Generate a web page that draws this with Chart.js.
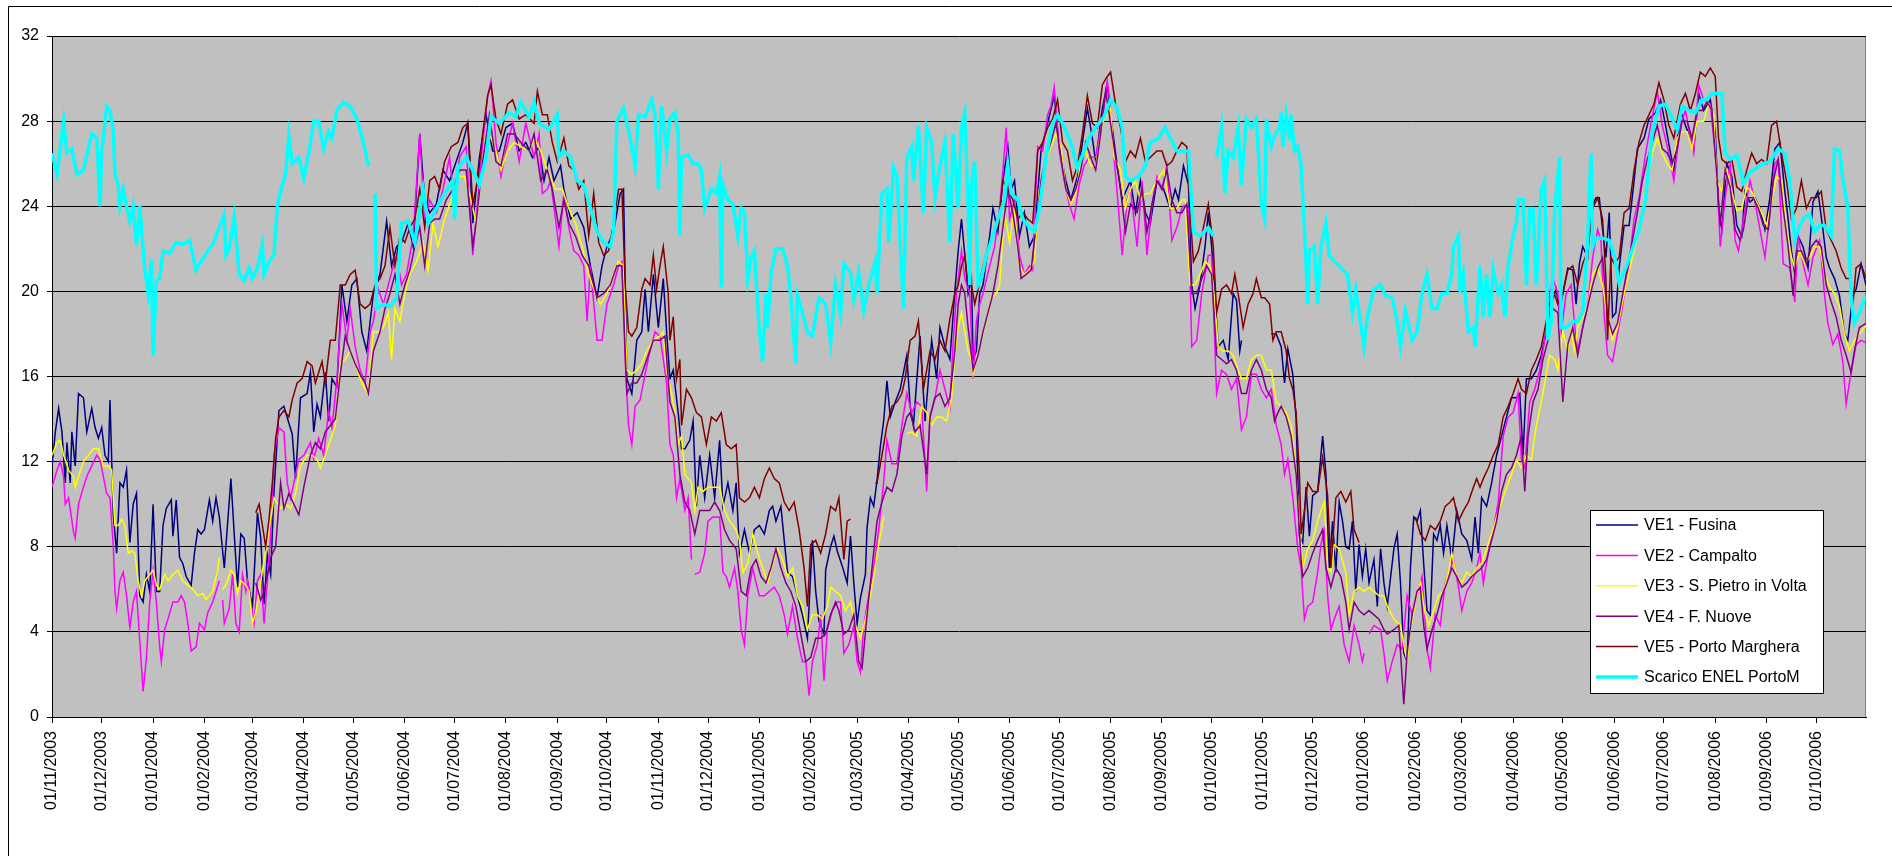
<!DOCTYPE html>
<html lang="it">
<head>
<meta charset="UTF-8">
<title>Temperature acqua - Venezia</title>
<script src="https://cdn.jsdelivr.net/npm/chart.js@4.4.0/dist/chart.umd.min.js"></script>
<style>
  html, body { margin: 0; padding: 0; background: #fff; }
  canvas { display: block; }
</style>
</head>
<body>
<canvas id="grafico" width="1892" height="856"></canvas>
<script>
// x = giorni dal 01/11/2003 (31/10/2006 = 1095); null = dato mancante

// VE1 - Fusina
var ve1Days = [
  0, 2, 4, 6, 8, 9, 11, 12, 14, 16,
  19, 21, 24, 26, 28, 30, 32, 34, 35, 37,
  39, 41, 43, 45, 47, 49, 51, 53, 55, 57,
  59, 61, 63, 65, 67, 69, 72, 73, 75, 77,
  79, 81, 84, 86, 88, 90, 92, 95, 97, 99,
  101, 104, 108, 110, 112, 114, 116, 118, 121, 124,
  126, 128, 130, 132, 134, 137, 140, 143, 145, 147,
  150, 154, 156, 158, 160, 162, 165, 167, 169, 172,
  175, 178, 181, 184, 187, 190, 194, 198, 202, 205,
  208, 211, 215, 218, 222, 225, 228, 232, 236, 240,
  244, 248, 251, 254, 258, 262, 266, 270, 274, 278,
  282, 286, 290, 294, 297, 300, 303, 307, 309, 313,
  317, 321, 325, 329, 332, 335, 339, 343, 345, 347,
  350, 353, 356, 358, 360, 363, 366, 369, 371, 373,
  375, 378, 380, 382, 385, 387, 389, 391, 394, 397,
  400, 403, 405, 408, 411, 413, 415, 418, 421, 424,
  427, 430, 433, 435, 437, 440, 442, 444, 447, 450,
  453, 456, 459, 461, 463, 466, 467, 470, 472, 474,
  477, 480, 482, 484, 486, 488, 491, 492, 494, 496,
  498, 500, 502, 504, 506, 509, 512, 516, 518, 520,
  524, 527, 531, 534, 536, 539, 542, 545, 547, 549,
  551, 553, 555, 556, 558, 560, 562, 566, 568, 571,
  574, 577, 579, 581, 584, 587, 590, 593, 597, 601,
  605, 608, 612, 615, 619, 622, 625, 628, 630, 634,
  637, 640, 643, 646, 651, 654, 657, 660, 663, 667,
  671, 675, 678, 680, 683, 686, 688, 690, 693, 696,
  698, 700, 702, 704, 707, 710, 713, 715, 717, 718,
  720, 736, 739, 742, 744, 746, 749, 751, 753, 755,
  757, 759, 761, 764, 767, 769, 771, 773, 775, 777,
  779, 781, 783, 785, 787, 789, 791, 793, 795, 798,
  800, 802, 804, 806, 810, 812, 814, 816, 818, 820,
  822, 824, 826, 828, 830, 832, 834, 836, 838, 840,
  842, 845, 848, 851, 854, 857, 859, 861, 863, 866,
  869, 872, 875, 878, 881, 884, 886, 888, 890, 893,
  896, 899, 902, 905, 908, 910, 912, 915, 918, 920,
  922, 924, 927, 929, 932, 934, 936, 938, 940, 942,
  944, 946, 949, 952, 955, 957, 961, 964, 968, 971,
  974, 977, 979, 983, 986, 989, 991, 994, 997, 1001,
  1004, 1006, 1008, 1011, 1014, 1017, 1020, 1022, 1025, 1028,
  1031, 1034, 1037, 1040, 1043, 1046, 1048, 1050, 1052, 1054,
  1057, 1060, 1063, 1066, 1069, 1071, 1073, 1076, 1079, 1082,
  1084, 1087, 1089, 1092, 1095
];
var ve1 = [
  11.8, 13.4, 14.5, 13.4, 11, 12.9, 11, 13.4, 11.8, 15.2,
  15, 13.4, 14.5, 13.6, 13.1, 13.6, 12.3, 12, 14.9, 9.5,
  7.7, 11, 10.8, 11.6, 8.2, 10, 10.5, 5.7, 5.4, 6.7,
  5.9, 10, 5.9, 5.9, 9, 9.8, 10.2, 8.5, 10.2, 7.5,
  7.2, 6.6, 6.2, 7.7, 8.8, 8.6, 8.8, 10.2, 9.2, 10.3,
  9.4, 7, 11.2, 8.6, 6.1, 8.6, 8.4, 6.4, 5.2, 9.6,
  8.4, 5.3, 7.6, 6.7, 10.6, 14.4, 14.6, 13.8, 13.3, 11.2,
  15, 15.2, 16.2, 13.4, 14.7, 14.1, 16.2, 13.9, 15.9, 15.5,
  20.3, 18.6, 20.3, 20.6, 18.1, 17.2, 19.9, 20.8, 23.3, 21.2,
  22.1, 22.3, 23.2, 22.1, 27.4, 24.3, 23.7, 24.1, 25.7, 25.2,
  26.1, 27, 27.9, 23.2, 26.3, 28.3, 26.6, 26.6, 27.7, 27.9,
  26.6, 27, 26.3, 26.8, 25.2, 26.3, 25.2, 25.9, 24.8, 23.4,
  23.7, 23, 21.2, 19.7, 21.2, 22.1, 22.8, 24.6, 24.8, 15.9,
  15.2, 17.7, 18.1, 20.1, 18.1, 20.8, 18.3, 20.6, 18.1, 15.9,
  16.3, 14.3, 12.6, 12.6, 13, 13.9, 9.9, 12.3, 10.3, 12.3,
  10.3, 13, 9.9, 11, 9.7, 11, 7.7, 8.8, 7.7, 8.8,
  9, 8.6, 9.7, 9.9, 9.2, 9.9, 8.3, 6.8, 6.6, 5.7,
  4.8, 3.7, 8.3, 5.9, 4.5, 3.9, 6.9, 8, 8.5, 7.8,
  7.1, 6.3, 8.5, 6.3, 4.4, 5.6, 6.7, 8.9, 10.3, 9.9,
  11.1, 12.7, 13.9, 15.8, 14.1, 14.8, 15.4, 17, 14.6, 13.7,
  17.9, 13.9, 17.7, 15.9, 18.3, 17.4, 16.8, 20, 21.9, 23.4,
  21.7, 19.9, 20.6, 16.8, 17.2, 19.9, 20.3, 22.6, 23.9, 22.8,
  25.2, 26.8, 24.8, 25.2, 22.6, 23.7, 22.1, 22.6, 26.6, 27.9,
  29.2, 26.8, 25.2, 24.3, 25.4, 27, 28.6, 27.2, 26.1, 28.6,
  29.7, 27.7, 25.9, 24.3, 25.2, 23.7, 25.2, 23.7, 23.2, 25.2,
  24.8, 23.9, 24.8, 24.3, 25.9, 25, 20.3, 19.2, 20.3, 22.1,
  23.7, 22.1, 19.9, 17.4, 17.7, 16.8, 19.9, 19.6, 17.2, 17.7,
  null, 18, 18, 17.4, 15.7, 17.3, 16.1, 14, 8.5, 8.2,
  10.8, 8.5, 10.4, 10.6, 13.2, 11.4, 7, 9.2, 6.8, 10.1,
  9.2, 8, 7.9, 9.2, 5.9, 8.1, 6.6, 7.9, 6.3, 7.4,
  5.2, 7.9, 6.3, 5.2, 7.9, 8.6, 6.3, 3, 2.6, 7,
  9.4, 9.2, 9.7, 7.2, 5, 4.8, 8.6, 8.3, 9, 7.7,
  9, 7.4, 9.7, 8.6, 8.3, 7.4, 9.4, 7.7, 10.3, 9.9,
  11, 12.3, 13.2, 14.1, 15, 15, 15.2, 12.3, 15.9, 15.9,
  16.3, 17, 18.1, 19.4, 20.1, 19, 19.9, 21.1, 21, 19.4,
  21.3, 22.1, 21.6, 23.9, 24.4, 24.4, 22.9, 21.6, 23.7, 18.8,
  19, 21.1, 23.1, 23.1, 25.2, 26.7, 27.2, 28.1, 28.4, 29,
  27.8, 26.5, 25.7, 28.5, 27.8, 27.2, 26.7, 29.3, 28.5, 29,
  27.5, 23.9, 22.9, 26, 25.4, 23.1, 22.6, 24.7, 24.2, 24.4,
  23.9, 22.9, 24.4, 26.7, 27, 24.7, 23.4, 21.9, 20.8, 22.6,
  22.1, 21.1, 24.2, 24.7, 22.9, 21.6, 21.1, 20.6, 19.8, 18,
  17.7, 19.8, 20.1, 21.3, 20.3
];

// VE2 - Campalto
var ve2Days = [
  0, 3, 5, 7, 8, 10, 13, 14, 16, 19,
  21, 24, 27, 29, 31, 33, 35, 37, 38, 39,
  41, 43, 45, 47, 49, 51, 55, 57, 59, 61,
  63, 65, 66, 68, 70, 73, 76, 78, 80, 82,
  84, 87, 89, 92, 94, 97, 99, 101, 102, 103,
  104, 107, 109, 111, 113, 115, 117, 118, 122, 124,
  126, 128, 130, 132, 134, 137, 140, 142, 144, 146,
  149, 152, 156, 158, 161, 164, 167, 169, 172, 175,
  178, 180, 183, 186, 189, 192, 194, 197, 200, 203,
  206, 208, 211, 214, 218, 222, 225, 228, 232, 236,
  240, 243, 246, 250, 254, 257, 260, 263, 265, 268,
  271, 274, 278, 282, 286, 291, 294, 296, 299, 301,
  306, 309, 312, 315, 318, 321, 323, 325, 329, 332,
  335, 339, 342, 344, 346, 348, 350, 352, 355, 358,
  361, 364, 367, 369, 371, 373, 375, 377, 379, 382,
  384, 386, 387, 388, 391, 394, 396, 399, 403, 405,
  407, 409, 412, 414, 416, 418, 420, 423, 425, 427,
  430, 433, 436, 439, 442, 444, 447, 450, 453, 455,
  457, 459, 462, 464, 466, 468, 471, 474, 476, 478,
  481, 484, 486, 488, 490, 493, 496, 499, 502, 504,
  507, 510, 513, 516, 519, 522, 525, 528, 530, 533,
  536, 539, 542, 544, 546, 549, 551, 554, 556, 558,
  560, 562, 566, 569, 572, 574, 576, 578, 581, 584,
  587, 590, 592, 595, 598, 601, 603, 605, 608, 611,
  614, 617, 620, 623, 626, 630, 634, 637, 639, 641,
  643, 646, 649, 651, 655, 658, 661, 664, 667, 670,
  673, 676, 679, 682, 684, 686, 688, 691, 694, 698,
  700, 703, 706, 709, 712, 715, 718, 721, 724, 727,
  730, 733, 736, 739, 742, 744, 746, 749, 752, 754,
  756, 758, 761, 764, 766, 768, 770, 772, 774, 777,
  780, 783, 786, 789, 791, 792, 793, 795, 798, 802,
  804, 806, 809, 812, 815, 818, 821, 824, 827, 830,
  832, 835, 838, 841, 844, 846, 849, 851, 854, 857,
  860, 862, 864, 867, 870, 873, 876, 879, 882, 885,
  887, 889, 892, 895, 898, 901, 904, 906, 909, 911,
  914, 917, 919, 921, 924, 927, 930, 933, 935, 937,
  939, 942, 945, 948, 952, 955, 958, 962, 965, 969,
  972, 976, 979, 983, 986, 989, 991, 994, 997, 1001,
  1005, 1007, 1010, 1013, 1016, 1018, 1021, 1025, 1028, 1031,
  1034, 1037, 1040, 1042, 1045, 1049, 1052, 1054, 1057, 1060,
  1063, 1067, 1070, 1072, 1075, 1078, 1081, 1083, 1086, 1089,
  1092, 1095
];
var ve2 = [
  10.8, 11.6, 12, 11.3, 10, 10.3, 8.7, 8.4, 10, 10.8,
  11.3, 11.8, 12.3, 12.1, 11.3, 10.5, 10.3, 8, 5.9, 5.1,
  6.4, 6.8, 5.7, 4.2, 5.4, 5.9, 1.2, 2.8, 5.4, 6.9,
  5.4, 3.3, 2.6, 4.1, 4.6, 5.4, 5.4, 5.7, 5.4, 4.4,
  3.1, 3.3, 4.4, 4.1, 4.9, 5.4, 5.9, 6.4, null, 5.5,
  4.4, 5.1, 6.7, 4.4, 4, 6.7, 5.9, 6.4, 4.4, 6.4,
  6.7, 4.4, 6.4, 8.6, 12.3, 13.6, 13.4, 11, 10.3, 11,
  12.1, 12.3, 12.9, 12.1, 13.1, 12.3, 14.4, 13.6, 15.9, 19.4,
  17.7, 19.2, 17.4, 16.3, 15.7, 18.1, 18.6, 20.1, 19.4, 20.3,
  21.2, 21.7, 20.3, 20.8, 22.6, 27.4, 23.2, 24.3, 23.7, 24.8,
  26.3, 23.9, 26.3, 26.8, 21.7, 24.3, 27, 29.2, 29.9, 27,
  25.4, 26.6, 27.9, 26.1, 27.9, 26.3, 27.4, 24.6, 24.8, 25.2,
  22.1, 24.6, 23, 21.9, 21.7, 21.2, 18.6, 21.2, 17.7, 17.7,
  19.4, 20.3, 21.2, 21.4, 16.8, 13.7, 12.8, 14.6, 14.9, 16.1,
  17.2, 18.1, 17.9, 16.8, 15.7, 12.8, 12.3, 10.3, 11.2, 9.7,
  10.3, 7.4, null, 6.7, 6.8, 7.7, 9.2, 9.4, 9.4, 6.8,
  6.6, 6.1, 7, 5.9, 4.1, 3.4, 5.7, 7, 6.3, 5.7,
  5.7, 5.9, 6.1, 5.7, 4.8, 3.9, 5.2, 3.7, 2.6, 2.6,
  1, 2.6, 3.4, 4.8, 1.7, 4.1, 5, 5.4, 5.4, 3,
  3.4, 4.3, 2.6, 2.1, 4.3, 5.7, 7, 8.8, 11, 13,
  11.9, 11.9, 13.7, 15.2, 14.3, 14.8, 14.6, 10.6, 14.1, 15,
  16.3, 15.4, 14.5, 17.7, 19.9, 21.9, 20.6, 19.9, 15.9, 18.6,
  19.4, 19.9, 21.2, 22.1, 23.9, 25.7, 27.7, 23.4, 24.3, 21.7,
  20.8, 21.2, 21, 26.8, 26.6, 28.3, 28.7, 29.6, 26.6, 25.2,
  24.1, 23.4, 25, 25.9, 26.3, 26.3, 28.1, 29.9, 28.6, 26.3,
  24.6, 21.7, 24.3, 24.8, 22.1, 25.2, 21.7, 24.1, 25.4, 24.8,
  25.9, 22.4, 23, 23.9, 24.1, 23.9, 17.4, 17.7, 19.9, 21.7,
  21.7, 15.2, 16.3, 16.1, 15.4, 15.9, 13.5, 14.1, 16.1, 16.1,
  15.4, 15, 15.4, 13.7, 12.8, 11.4, 12.1, 10.3, 7.9, 7,
  4.6, 5.2, 5.4, 6.8, 8.1, 8.8, 5.7, 4.1, 4.6, 5.2,
  3.4, 2.6, 4.3, 3.4, 2.6, 3, null, 3.9, 4.3, 4.1,
  3, 1.7, 2.6, 3.4, 3.2, 5.7, 4.8, 5.7, 6.6, 3.2,
  2.3, 4.8, 4.3, 6.3, 7, 7.4, 6.1, 5, 5.9, 6.3,
  7, 7.7, 6.3, 7.7, 8.8, 10.1, 13.2, 14.1, 14.3, 15.2,
  12.1, 11.7, 14.8, 15.4, 16.3, 17.7, 19.9, 20.6, 19.9, 18.1,
  19.9, 20.3, 18.5, 17.2, 18.3, 19.3, 21.6, 22.9, 22.4, 18.8,
  17, 16.7, 18, 19.3, 21.3, 23.4, 24.4, 26.5, 27.8, 29.4,
  27.8, 26.5, 25.2, 27.8, 28.5, 27.2, 26.5, 29.7, 29, 28.8,
  25.7, 22.1, 24.4, 26, 22.4, 21.9, 23.4, 25.2, 24.2, 22.9,
  21.6, 23.7, 26, 26.2, 21.3, 21.1, 19.5, 22.6, 21.3, 20.3,
  21.6, 22.4, 19.8, 18.5, 17.5, 18, 16.7, 14.7, 16.2, 17.5,
  17.7, 17.6
];

// VE3 - S. Pietro in Volta
var ve3Days = [
  0, 3, 5, 7, 8, 10, 13, 14, 16, 19,
  22, 25, 28, 31, 34, 36, 38, 40, 42, 44,
  46, 48, 50, 52, 54, 56, 58, 61, 63, 65,
  68, 70, 73, 76, 79, 82, 85, 88, 91, 93,
  97, 100, 101, 102, 103, 105, 108, 110, 112, 114,
  117, 119, 121, 123, 134, 138, 141, 144, 147, 150,
  154, 157, 160, 162, 165, 168, 171, 174, 177, 180,
  183, 186, 189, 191, 194, 197, 200, 203, 205, 207,
  210, 213, 216, 220, 224, 227, 230, 233, 237, 241,
  245, 249, 253, 256, 260, 264, 268, 271, 275, 279,
  283, 288, 291, 295, 299, 304, 308, 312, 316, 320,
  324, 328, 331, 335, 339, 342, 345, 347, 350, 353,
  356, 359, 363, 367, 369, 371, 374, 376, 378, 380,
  382, 384, 386, 388, 390, 393, 396, 399, 403, 406,
  409, 413, 415, 417, 420, 423, 426, 429, 432, 435,
  438, 441, 444, 447, 450, 453, 456, 459, 462, 465,
  468, 470, 473, 476, 479, 482, 485, 488, 491, 494,
  496, 499, 502, 503, 516, 519, 522, 525, 528, 531,
  534, 537, 540, 543, 545, 547, 549, 551, 553, 555,
  556, 558, 561, 564, 567, 570, 572, 575, 578, 581,
  584, 587, 590, 593, 596, 599, 602, 606, 609, 612,
  615, 618, 621, 624, 627, 630, 634, 639, 641, 645,
  648, 651, 654, 657, 660, 663, 667, 671, 675, 679,
  682, 684, 687, 690, 693, 696, 699, 701, 704, 707,
  710, 713, 716, 718, 721, 724, 727, 730, 733, 736,
  739, 742, 745, 748, 750, 753, 755, 758, 761, 764,
  766, 768, 770, 772, 774, 777, 781, 783, 786, 789,
  792, 795, 798, 801, 804, 806, 810, 814, 816, 818,
  820, 823, 826, 829, 831, 834, 837, 840, 843, 845,
  848, 851, 854, 857, 860, 863, 866, 869, 872, 875,
  878, 881, 884, 887, 890, 893, 896, 899, 902, 904,
  907, 909, 912, 915, 917, 919, 921, 924, 927, 930,
  933, 936, 939, 942, 945, 948, 951, 954, 957, 960,
  963, 966, 969, 972, 975, 978, 981, 984, 987, 990,
  993, 997, 1000, 1003, 1005, 1008, 1011, 1014, 1017, 1020,
  1023, 1026, 1029, 1032, 1035, 1038, 1041, 1044, 1047, 1050,
  1052, 1055, 1058, 1061, 1064, 1067, 1070, 1073, 1076, 1079,
  1082, 1085, 1088, 1091, 1095
];
var ve3 = [
  12.3, 12.9, 13, 12.3, 12.1, 11.6, 11.3, 10.8, 11.3, 12,
  12.3, 12.6, 12.6, 11.8, 11.8, 11.6, 9, 9, 9.3, 9,
  7.7, 7.8, 7.7, 6.4, 5.7, 6.4, 6.6, 6.9, 6.2, 6,
  6.7, 6.4, 6.7, 6.9, 6.4, 6.2, 6, 5.7, 5.8, 5.5,
  5.9, 6.9, 7.5, null, 6, 6.2, 6.9, 6.7, 5.8, 6.4,
  6.2, 5.9, 4.4, 4.9, 10.3, 9.8, 10, 9.8, 10.5, 11.8,
  12.3, 12.3, 12.1, 11.7, 12.3, 13, 13.7, 16.6, 16.8, 17.2,
  16.6, 15.9, 15.4, 15.2, 18.1, 18.1, 18.3, 19, 16.8, 19.2,
  18.6, 19.9, 20.8, 21.4, 22.3, 21, 23.2, 22.1, 23.4, 24.3,
  25.4, 25.4, 24.3, 23.2, 25.9, 27.4, 26.6, 25.7, 26.6, 27,
  26.8, 26.6, 27.2, 26.6, 25.7, 24.8, 24.8, 23.9, 23.2, 22.1,
  20.8, 19.9, 19.4, 19.9, 20.8, 21.4, 21.2, 16.3, 16.1, 16.3,
  16.6, 17.2, 17.7, 17.9, 18.1, 16.3, 15.2, 14.3, 12.8, 13.2,
  11.4, 11.2, 11, 9.7, 10.8, 10.6, 10.8, 10.8, 10.8, 9.7,
  9.2, 8.8, 8.3, 6.8, 7.2, 8.6, 7.7, 7, 6.3, 7.2,
  7.9, 7.4, 6.6, 7, 5.7, 5.2, 4.1, 4.8, 4.8, 4.6,
  5.2, 6.1, 5.9, 5.7, 5, 5.4, 4.3, 3.7, 4.6, 5.7,
  6.6, 8.1, 9.4, null, 13.3, 13.4, 13.2, 14.6, 14.3, 13.7,
  14.1, 14.1, 13.9, 15, 17, 18.3, 19, 18.1, 17.2, 16.8,
  16.1, 16.8, 17.7, 18.6, 19.7, 19.9, 20.3, 23.7, 22.3, 23.9,
  21.2, 20.8, 21, 21.4, 24.8, 25.9, 26.6, 27.4, 26.8, 24.8,
  24.1, 24.6, 26.1, 26.6, 25.9, 25.9, 27.9, 28.6, 26.3, 25.7,
  23.9, 24.8, 25.2, 24.3, 24.6, 24.6, 25.2, 25.7, 23.9, 23.9,
  24.3, 24.3, 20.3, 20.3, 20.8, 21.4, 21.2, 20.3, 17.4, 17.2,
  17.2, 17, 16.3, 15.9, 15.9, 16.8, 17, 17, 16.3, 16.3,
  14.8, 14.6, 14.3, 13.7, 12.3, 9.2, 7, 7.9, 8.3, 9.2,
  9.7, 10.1, 7, 6.8, 8.1, 7.9, 6.8, 4.8, 5.9, 6.1,
  5.9, 6.1, 5.9, 5.7, 5.7, 5.2, 4.6, 4.3, 3.4, 2.6,
  4.1, 5.4, 6.3, 4.8, 4.3, 5, 5.7, 5.9, 6.8, 7.7,
  6.6, 6.3, 6.8, 6.6, 7, 7.2, 7.9, 8.6, 9.4, 10.1,
  10.8, 11.4, 12.1, 11.7, 12.3, 12.1, 13.7, 14.8, 16.1, 17,
  16.8, 16.3, 18.1, 17.2, 18.1, 17.2, 18.3, 18.8, 19.3, 20.8,
  21.1, 20.3, 18.8, 17.7, 18.3, 19.5, 20.6, 21.6, 22.6, 23.9,
  25.2, 26.5, 27.2, 26.5, 26, 25.7, 27.2, 27.5, 27.5, 26.7,
  28, 28, 28.8, 28.3, 25.2, 24.7, 25.7, 24.7, 23.8, 23.9,
  24.9, 24.7, 24.2, 23.7, 23.1, 24.2, 25.4, 25.2, 22.9, 21.6,
  21.1, 21.9, 21.3, 21.6, 22.1, 22.1, 20.8, 20.2, 19.9, 19.3,
  18, 17.2, 17.7, 18, 18.4
];

// VE4 - F. Nuove
var ve4Days = [
  123, 126, 128, 131, 132, 135, 138, 140, 143, 146,
  149, 152, 156, 159, 162, 165, 168, 171, 174, 177,
  180, 183, 186, 189, 191, 194, 198, 201, 204, 207,
  210, 213, 216, 219, 222, 225, 228, 231, 234, 238,
  242, 246, 250, 254, 256, 260, 264, 268, 271, 275,
  279, 283, 288, 291, 295, 299, 302, 306, 309, 312,
  316, 320, 324, 329, 333, 337, 341, 344, 347, 350,
  353, 356, 359, 363, 367, 370, 373, 376, 379, 382,
  385, 388, 391, 394, 397, 400, 403, 406, 409, 413,
  416, 419, 422, 425, 428, 431, 434, 437, 440, 443,
  446, 449, 452, 455, 458, 461, 464, 467, 470, 473,
  475, 478, 481, 484, 487, 489, 492, 495, 498, 501,
  504, 507, 510, 513, 516, 518, 521, 524, 528, 530,
  533, 536, 539, 542, 545, 547, 549, 551, 553, 555,
  556, 559, 562, 565, 568, 571, 574, 577, 580, 583,
  585, 588, 591, 594, 597, 600, 603, 606, 609, 612,
  615, 618, 621, 624, 627, 630, 633, 636, 639, 642,
  645, 648, 651, 655, 658, 661, 664, 667, 670, 673,
  676, 679, 682, 685, 688, 691, 694, 697, 700, 703,
  706, 709, 712, 715, 718, 721, 724, 727, 730, 733,
  736, 738, 740, 742, 745, 748, 751, 754, 755, 758,
  761, 764, 767, 769, 772, 775, 778, 781, 783, 786,
  789, 792, 795, 798, 801, 804, 806, 810, 813, 816,
  818, 821, 824, 826, 828, 830, 833, 836, 839, 842,
  845, 848, 851, 854, 857, 860, 863, 866, 869, 872,
  875, 878, 881, 884, 887, 889, 891, 894, 897, 900,
  903, 906, 909, 912, 915, 918, 921, 924, 927, 930,
  933, 936, 939, 942, 945, 948, 951, 954, 957, 960,
  963, 966, 969, 972, 975, 978, 981, 984, 987, 990,
  993, 996, 999, 1002, 1005, 1007, 1010, 1013, 1016, 1019,
  1021, 1024, 1027, 1030, 1033, 1036, 1039, 1042, 1045, 1048,
  1051, 1053, 1056, 1059, 1062, 1065, 1068, 1071, 1074, 1077,
  1080, 1083, 1086, 1088, 1091, 1095
];
var ve4 = [
  6.3, 5.5, 5.9, 7, 7.5, 8, 11, 9.8, 10.5, 10,
  9.5, 10.8, 12.3, 12.9, 12.6, 13.4, 13.7, 14, 16.1, 17.9,
  17.2, 16.6, 16.1, 15.7, 15.2, 17.2, 18.1, 19.2, 19.9, 20.8,
  19.4, 20.3, 21, 22.1, 23, 21.2, 23.2, 23.4, 23.4, 24.3,
  24.8, 25.7, 25.7, 22.1, 23.2, 26.1, 28.3, 26.1, 25.9, 27.4,
  27.4, 27, 26.6, 27.4, 25.2, 25.7, 24.8, 23, 24.3, 23.2,
  22.6, 21.7, 21.2, 19.7, 19.9, 20.3, 21.2, 21.2, 15.2, 15.7,
  15.7, 16.1, 16.8, 17.7, 17.7, 17.9, 14.8, 14.1, 11.4, 10.1,
  9.7, 8.6, 9.7, 9.7, 9.7, 10.1, 9.7, 8.8, 8.3, 7.9,
  5.9, 5.7, 7, 7.4, 6.6, 6.3, 7, 7.9, 7, 6.3,
  5.9, 5.2, 3.9, 2.6, 2.8, 3.7, 3.7, 3.9, 4.8, 5.4,
  5, 3.9, 4.1, 4.8, 2.6, 2.3, 4.8, 7, 9.2, 10.1,
  10.8, 10.6, 11.4, 13.2, 14.1, 14.3, 13.4, 13.7, 11.4, 14.1,
  15, 15.2, 14.6, 15, 17.2, 19.4, 20.3, 19.9, 18.3, 17,
  16.3, 17, 18.1, 19, 19.9, 21.2, 23, 24.8, 23.7, 22.1,
  20.6, 20.8, 21, 23, 25.2, 26.3, 27, 27.9, 26.3, 24.8,
  24.3, 24.8, 25.7, 27, 26.3, 25.7, 27.4, 29.4, 27.9, 26.3,
  24.8, 22.8, 24.1, 23.7, 24.8, 22.8, 24.1, 25.2, 24.8, 25.7,
  24.3, 23.7, 23.7, 24.1, 19.9, 19.9, 20.6, 21.2, 20.8, 17,
  16.8, 16.6, 16.8, 16.3, 15.2, 15.2, 16.3, 16.8, 16.3, 15.4,
  15, 13.9, 14.3, 14.6, 14.1, 13.2, 11.4, 7.4, 6.6, 7,
  7.7, 8.3, 8.8, 7, 6.1, 7, 6.6, 5.4, 4.1, 5.4,
  5, 4.8, 5, 4.8, 4.6, 4.1, 3.9, 4.1, 4.3, 0.6,
  3, 4.8, 5.9, 6.1, 4.3, 3.2, 4.1, 4.8, 5.7, 6.3,
  7, 6.6, 6.1, 6.3, 6.6, 6.8, 7, 7.4, 8.3, 9.2,
  10.6, 11.4, 11.7, 12.3, 13.2, 10.6, 13.2, 14.8, 15.4, 16.8,
  17.7, 19.2, 19, 14.8, 17.5, 18.3, 17, 18.3, 19.3, 20.3,
  21.1, 21.6, 18.8, 18, 18.5, 19.8, 21.1, 22.4, 23.7, 25.2,
  26.2, 27, 27.8, 26.7, 26.5, 26, 26.7, 28, 28, 27.2,
  28.5, 28.5, 28.9, 28.5, 25.4, 23.1, 25.7, 24.9, 22.9, 22.4,
  22.9, 24.4, 24.4, 23.9, 23.1, 22.9, 25.2, 26.2, 23.9, 22.1,
  19.8, 21.9, 21.9, 21.3, 22.1, 22.4, 22.1, 20.3, 19.5, 18.8,
  17.7, 17, 16.2, 17.2, 18.3, 18.5
];

// VE5 - Porto Marghera
var ve5Days = [
  123, 125, 127, 129, 131, 133, 135, 137, 140, 143,
  145, 148, 151, 154, 157, 159, 161, 163, 165, 168,
  171, 174, 177, 180, 183, 186, 189, 192, 195, 198,
  201, 204, 207, 210, 213, 216, 219, 222, 225, 228,
  231, 234, 237, 241, 245, 248, 251, 254, 257, 260,
  263, 265, 268, 271, 275, 278, 282, 286, 291, 293,
  296, 299, 302, 305, 309, 312, 315, 318, 321, 324,
  327, 330, 333, 336, 339, 342, 344, 346, 348, 350,
  353, 356, 358, 361, 363, 365, 367, 369, 372, 373,
  375, 377, 379, 380, 383, 386, 389, 392, 395, 398,
  401, 404, 407, 410, 413, 415, 418, 421, 424, 427,
  430, 433, 436, 439, 442, 445, 448, 451, 454, 456,
  458, 461, 464, 467, 470, 473, 475, 478, 480, 482,
  484, 497, 498, 501, 504, 507, 510, 513, 515, 518,
  521, 523, 526, 530, 533, 536, 539, 542, 545, 547,
  549, 551, 553, 555, 557, 559, 562, 565, 568, 571,
  574, 577, 580, 583, 586, 589, 592, 595, 598, 601,
  604, 607, 610, 613, 616, 619, 622, 625, 628, 631,
  634, 637, 639, 642, 645, 648, 651, 654, 657, 660,
  663, 667, 670, 673, 676, 679, 682, 685, 687, 689,
  692, 695, 698, 701, 703, 706, 709, 712, 714, 716,
  719, 722, 725, 727, 730, 732, 735, 737, 739, 742,
  745, 747, 749, 751, 753, 754, 756, 758, 761, 764,
  767, 770, 772, 775, 778, 781, 784, 786, 789, 790,
  823, 826, 829, 832, 835, 838, 841, 844, 846, 849,
  852, 855, 858, 860, 862, 864, 867, 870, 873, 876,
  879, 882, 885, 887, 890, 893, 896, 899, 902, 904,
  906, 909, 912, 915, 918, 921, 924, 927, 930, 933,
  936, 938, 939, 941, 943, 946, 949, 952, 955, 958,
  961, 964, 967, 970, 973, 976, 979, 983, 986, 989,
  992, 995, 998, 1001, 1004, 1006, 1008, 1011, 1014, 1017,
  1020, 1023, 1026, 1029, 1032, 1035, 1038, 1041, 1044, 1047,
  1050, 1053, 1056, 1059, 1062, 1065, 1068, 1071, 1074, 1077,
  1080, 1083, 1085, 1087, 1089, 1092, 1095
];
var ve5 = [
  9.6, 10, 9, 8, 9.3, 11, 13.1, 14.1, 14.4, 14.1,
  14.9, 15.7, 15.9, 16.7, 16.5, 15.7, 16.2, 16.7, 15.7, 17.7,
  17.7, 20.3, 20.3, 20.8, 21, 19.4, 19.2, 19.4, 20.3, 20.6,
  21.2, 23, 21.2, 22.6, 22.3, 23, 23.4, 24.8, 23, 25.2,
  25.4, 24.8, 26.1, 26.8, 27, 27.7, 27.9, 24.1, 25.2, 27.4,
  29.2, 29.7, 28.1, 27.4, 28.8, 29, 28.1, 28.3, 27.9, 29.4,
  28.3, 28.3, 27, 26.1, 27.2, 25.9, 25.7, 24.8, 25.2, 22.6,
  24.6, 22.3, 21.7, 21.9, 23.2, 24.8, 24.8, 20.3, 18.1, 17.9,
  18.3, 20.1, 20.6, 20.3, 21.7, 20.1, 21.2, 22.1, 19.9, 17.7,
  18.8, 15.9, 16.8, 13.7, 15.4, 15, 14.3, 14.1, 12.8, 14.1,
  13.9, 14.3, 12.8, 12.6, 12.8, 10.3, 10.1, 10.3, 10.8, 10.3,
  11.2, 11.7, 11.2, 11, 10.1, 9.7, 10.1, 8.8, 7, 5.2,
  8.1, 8.3, 7.7, 8.6, 9.9, 9.7, 10.3, 7.4, 9.2, 9.3,
  null, 11, 11, 12.3, 13.7, 14.6, 14.8, 15.2, 15.9, 17.7,
  17.9, 18.6, 15.4, 17.2, 16.8, 17.7, 17.2, 18.7, 19.9, 20.3,
  21.2, 21.7, 20.3, 20.3, 19.4, 20.1, 21.2, 22.1, 22.6, 23,
  25.2, 24.8, 24.3, 23.4, 23.7, 23.4, 23.2, 26.6, 27, 27.7,
  28.1, 29, 27, 26.6, 25.2, 25.9, 27.4, 29.2, 27.9, 27.7,
  29.7, 30.1, 30.3, 28.8, 27.7, 26.1, 26.6, 26.3, 27.2, 26.1,
  26.3, 26.6, 26.6, 25.9, 26.1, 26.6, 27, 26.8, 23.7, 21.4,
  21.9, 23, 24.1, 22.1, 19, 20.1, 20.3, 19.9, 20.8, 19.9,
  18.3, 19.4, 19.9, 20.6, 19.7, 19.7, 19.4, 17.7, 18.1, 18.1,
  17.2, 15.9, 15.4, 14.3, 11.4, 8.6, 9.7, 11, 10.6, 10.6,
  12.2, 10.4, 7, 10.3, 10.6, 10.1, 10.6, 8.8, 8.2, null,
  9.4, 8.6, 8.3, 9, 8.8, 9.2, 9.9, 10.1, 10.3, 9.2,
  9.7, 10.1, 10.8, 11.2, 10.8, 11.2, 11.7, 12.3, 12.8, 14.1,
  14.6, 15.2, 15.9, 15.4, 15.2, 16.3, 16.8, 17.4, 18.6, 19.4,
  20.1, 19.4, 19.9, 21, 21.2, 20.3, 21.3, 21.9, 23.9, 24.4,
  23.4, 20.6, 17.7, 21.6, 21.3, 21.6, 23.7, 23.9, 25.7, 27,
  27.8, 28.3, 28.8, 29.8, 29, 27.8, 27.2, 28.8, 29.3, 28.5,
  29.3, 30.3, 30.1, 30.5, 30.1, 27.2, 26.2, 26, 26.2, 24.9,
  24.7, 25.7, 26.5, 26, 26.2, 26, 27.8, 28, 26.5, 25.2,
  23.4, 23.9, 25.2, 23.9, 24.4, 24.4, 24.7, 22.9, 22.4, 21.9,
  21.1, 20.6, 20.6, 19.3, 21.1, 21.3, 20.6
];

// Scarico ENEL Porto Marghera
var enelDays = [
  0, 3, 7, 9, 12, 15, 19, 24, 27, 29,
  30, 33, 35, 37, 38, 40, 41, 43, 45, 47,
  49, 51, 53, 56, 58, 60, 61, 63, 65, 67,
  71, 75, 79, 83, 87, 89, 91, 94, 97, 101,
  104, 105, 107, 110, 113, 116, 119, 121, 124, 127,
  128, 131, 134, 136, 139, 141, 143, 145, 149, 152,
  155, 158, 161, 164, 167, 169, 172, 176, 180, 184,
  188, 191, 193, 195, 196, 200, 204, 208, 211, 215,
  219, 224, 227, 232, 237, 242, 243, 245, 250, 254,
  258, 262, 265, 270, 276, 280, 283, 288, 291, 294,
  300, 305, 306, 309, 313, 317, 321, 325, 329, 333,
  337, 339, 341, 345, 349, 352, 354, 358, 362, 364,
  366, 368, 371, 373, 376, 378, 379, 380, 384, 387,
  390, 392, 394, 398, 401, 403, 404, 405, 408, 411,
  414, 416, 418, 420, 422, 424, 427, 429, 431, 432,
  434, 437, 441, 444, 446, 449, 450, 453, 456, 459,
  463, 467, 470, 473, 476, 478, 482, 484, 487, 490,
  493, 497, 498, 501, 504, 505, 508, 510, 514, 516,
  519, 520, 523, 526, 528, 531, 533, 536, 539, 542,
  544, 547, 549, 551, 553, 554, 555, 557, 559, 561,
  564, 568, 571, 575, 577, 579, 583, 586, 590, 593,
  596, 600, 604, 607, 610, 615, 619, 623, 626, 630,
  635, 639, 643, 646, 648, 651, 656, 660, 663, 668,
  672, 675, 679, 683, 686, 689, 693, 698, 701, 702,
  703, 706, 708, 710, 713, 716, 718, 721, 724, 727,
  730, 732, 733, 736, 738, 741, 742, 743, 745, 747,
  748, 750, 752, 754, 756, 758, 759, 762, 764, 766,
  769, 771, 774, 777, 779, 782, 785, 787, 789, 792,
  794, 798, 802, 805, 809, 812, 814, 817, 821, 824,
  827, 830, 833, 836, 839, 842, 845, 846, 849, 850,
  852, 855, 858, 859, 862, 864, 866, 868, 870, 873,
  875, 877, 879, 882, 884, 885, 888, 890, 892, 894,
  896, 899, 901, 903, 905, 907, 910, 911, 914, 918,
  921, 924, 927, 929, 930, 932, 936, 940, 943, 946,
  950, 954, 958, 962, 966, 970, 974, 977, 981, 984,
  988, 992, 996, 999, 1002, 1008, 1010, 1013, 1017, 1021,
  1025, 1029, 1033, 1037, 1042, 1046, 1049, 1052, 1055, 1058,
  1061, 1064, 1067, 1070, 1074, 1076, 1079, 1081, 1084, 1086,
  1088, 1091, 1095
];
var enel = [
  26.5, 25.5, 28, 26.5, 26.7, 25.5, 25.7, 27.4, 27.2, 24,
  26.5, 28.7, 28.5, 27.5, 25.5, 25, 24, 24.8, 24, 23.3,
  24, 22.2, 24, 21, 19.9, 21.5, 17, 20.5, 20.6, 21.9,
  21.8, 22.3, 22.2, 22.4, 21, 21.3, 21.5, 21.9, 22.2, 23,
  23.6, 21.7, 22, 23.5, 20.8, 20.5, 21.1, 20.6, 21.1, 22.2,
  20.8, 21.4, 21.7, 24, 25, 25.5, 27.3, 26, 26.3, 25.3,
  26.5, 28, 28, 26.7, 27.5, 27.2, 28.5, 28.9, 28.7, 28.1,
  27, 25.9, null, 24.6, 19.2, 19.4, 19.3, 19.7, 23.2, 23.3,
  22.3, 24.8, 23.2, 23.9, 24.6, 25.2, 23.4, 25.8, 26.3, 25.7,
  25, 26.3, 28.2, 27.9, 28.4, 28.2, 28.9, 28.2, 28.9, 27.9,
  27.6, 28.3, 26.3, 26.6, 26.3, 25.2, 25, 23.9, 22.8, 22.3,
  22.1, 22.8, 28, 28.6, 27.2, 25.9, 28.3, 28.2, 29, 28.3,
  24.8, 28.7, 26.6, 28.1, 28.4, 27.4, 22.6, 26.3, 26.4, 26,
  26, 25.7, 23.9, 24.8, 24.6, 25.4, 20.2, 25, 24.3, 24.1,
  22.6, 23.9, 23.7, 20.6, 21.6, 21.9, 18.1, 16.7, 19.9, 18.3,
  20.8, 22, 22, 21.2, 19.7, 16.6, 19.8, 19, 18.1, 17.9,
  19.7, 19.4, 17.6, 20.3, 18.9, 21.3, 20.9, 19.6, 20.9, 19.1,
  20.3, 21.4, 19.9, 24.6, 24.8, 22.3, 25.8, 25.4, 19.2, 26.3,
  26.8, 25.2, 27.8, 23.7, 27.7, 27, 24.4, 25.9, 27, 22.3,
  27.4, 23.9, 27.7, 28.4, 23.9, 20.3, 25, 26.1, 20.3, 20.6,
  21.7, 22.6, 23.4, 24.3, 25.9, 24.6, 24.3, 23.4, 23, 22.8,
  23.9, 26.3, 27.9, 28.3, 27.9, 27, 25.8, 26.6, 27.2, 27.7,
  28.2, 29, 28.6, 27.7, 25.4, 25.2, 25.4, 25.9, 27, 27.2,
  27.7, 27.2, 26.6, 26.6, 26.6, 22.8, 22.6, 23, 22.6, null,
  26.3, 27.7, 24.6, 26.6, 26.3, 27.7, 25, 28.1, 27.7, 28.1,
  24.1, 23.4, 28.1, 26.8, 27.3, 27.7, 28.4, 26.8, 28.3, 27.1,
  28.3, 26.6, 26.8, 25.9, 23, 19.4, 21.9, 22.1, 19.4, 22.1,
  23.2, 21.7, 21.4, 21.2, 21, 20.8, 19, 20.1, 19, 17.4,
  18.8, 20.1, 20.3, 19.8, 19.7, 18.6, 17.4, 19.1, 17.7, 18.1,
  19.9, 20.8, 19.2, 19.2, 19.9, 19.9, 20.8, 22.1, 22.6, 19.9,
  20.8, 18.1, 18.3, 17.4, 21.2, 18.8, 20.8, 18.8, 21, 19.9,
  20.3, 18.8, 21.2, 22.6, 23.2, 24.3, 24.3, 20.3, 23.9, 23.9,
  20.3, 24.8, 25.2, 17.7, 18.6, 23.7, 26.3, 18.3, 18.3, 18.6,
  18.6, 19, 22.4, 26.5, 22.1, 22.5, 22.5, 22.4, 21.7, 20.4,
  21.1, 22, 22.9, 24.4, 27.5, 28.7, 28.8, 28.3, 27.6, 28.7,
  28.5, 28.4, 29, 29, 29.3, 29.3, 26.5, 26.2, 26.4, 25.1,
  25.6, 25.8, 26, 26.1, 26.7, 26.5, 25.2, 22.4, 23.1, 23.5,
  23.6, 22.8, 23.1, 23.1, 22.6, 26.7, 26.6, 25.3, 23.9, 19.8,
  18.5, 19, 19.8
];

// etichette asse x (primo del mese)
var monthDays = [0, 30, 61, 92, 121, 152, 182, 213, 243, 274, 305, 335,
  366, 396, 427, 458, 486, 517, 547, 578, 608, 639, 670, 700,
  731, 761, 792, 823, 851, 882, 912, 943, 973, 1004, 1035, 1065];
var monthLabels = ['01/11/2003', '01/12/2003', '01/01/2004', '01/02/2004', '01/03/2004', '01/04/2004',
  '01/05/2004', '01/06/2004', '01/07/2004', '01/08/2004', '01/09/2004', '01/10/2004',
  '01/11/2004', '01/12/2004', '01/01/2005', '01/02/2005', '01/03/2005', '01/04/2005',
  '01/05/2005', '01/06/2005', '01/07/2005', '01/08/2005', '01/09/2005', '01/10/2005',
  '01/11/2005', '01/12/2005', '01/01/2006', '01/02/2006', '01/03/2006', '01/04/2006',
  '01/05/2006', '01/06/2006', '01/07/2006', '01/08/2006', '01/09/2006', '01/10/2006'];

var yTicks = [0, 4, 8, 12, 16, 20, 24, 28, 32];

var FONT = "'Liberation Sans', Arial, sans-serif";

function punti(giorni, serie) {
  if (giorni.length !== serie.length) console.warn('lunghezze diverse', giorni.length, serie.length);
  return giorni.map(function(d, i) { return { x: d, y: serie[i] }; });
}

function linea(label, giorni, serie, colore, spessore, ordine) {
  return {
    label: label,
    data: punti(giorni, serie),
    borderColor: colore,
    backgroundColor: colore,
    borderWidth: spessore,
    pointRadius: 0,
    tension: 0,
    spanGaps: false,
    order: ordine
  };
}

// sfondo grigio dell'area del grafico + cornice esterna
var sfondo = {
  id: 'sfondo',
  beforeDraw: function(chart) {
    var ctx = chart.ctx, a = chart.chartArea;
    ctx.save();
    ctx.fillStyle = '#ffffff';
    ctx.fillRect(0, 0, chart.width, chart.height);
    ctx.strokeStyle = '#000000';
    ctx.lineWidth = 1;
    ctx.beginPath();
    ctx.moveTo(8.5, chart.height);
    ctx.lineTo(8.5, 6.5);
    ctx.lineTo(chart.width, 6.5);
    ctx.stroke();
    ctx.fillStyle = '#c0c0c0';
    ctx.fillRect(a.left, a.top, a.right - a.left, a.bottom - a.top);
    ctx.strokeStyle = '#808080';
    ctx.strokeRect(a.left + 0.5, a.top + 0.5, a.right - a.left - 1, a.bottom - a.top);
    ctx.restore();
  }
};

// legenda disegnata a mano dentro l'area del grafico
var legenda = {
  id: 'legenda',
  afterDraw: function(chart) {
    var ctx = chart.ctx;
    var x = 1590.5, y = 510.5, w = 233, h = 183;
    ctx.save();
    ctx.fillStyle = '#ffffff';
    ctx.fillRect(x, y, w, h);
    ctx.strokeStyle = '#000000';
    ctx.lineWidth = 1;
    ctx.strokeRect(x, y, w, h);
    ctx.font = '16px ' + FONT;
    ctx.textBaseline = 'middle';
    chart.data.datasets.forEach(function(ds, i) {
      var yy = 525 + i * 30.4;
      ctx.strokeStyle = ds.borderColor;
      ctx.lineWidth = ds.borderWidth;
      ctx.beginPath();
      ctx.moveTo(1596, yy);
      ctx.lineTo(1638, yy);
      ctx.stroke();
      ctx.fillStyle = '#000000';
      ctx.fillText(ds.label, 1644, yy + 1);
    });
    ctx.restore();
  }
};

var ctx = document.getElementById('grafico').getContext('2d');
var grafico = new Chart(ctx, {
  type: 'line',
  data: {
    datasets: [
      linea('VE1 - Fusina', ve1Days, ve1, '#000080', 1.5, 5),
      linea('VE2 - Campalto', ve2Days, ve2, '#ff00ff', 1.5, 4),
      linea('VE3 - S. Pietro in Volta', ve3Days, ve3, '#ffff00', 1.5, 3),
      linea('VE4 - F. Nuove', ve4Days, ve4, '#800080', 1.5, 2),
      linea('VE5 - Porto Marghera', ve5Days, ve5, '#800000', 1.5, 1),
      linea('Scarico ENEL PortoM', enelDays, enel, '#00ffff', 3.5, 0)
    ]
  },
  options: {
    responsive: false,
    animation: false,
    devicePixelRatio: 1,
    layout: { padding: { top: 36, right: 26, left: 0, bottom: 0 } },
    plugins: {
      legend: { display: false },
      tooltip: { enabled: false }
    },
    scales: {
      x: {
        type: 'linear',
        min: 0,
        max: 1095,
        afterBuildTicks: function(scale) {
          scale.ticks = monthDays.map(function(v) { return { value: v }; });
        },
        afterFit: function(scale) { scale.height = 139; },
        ticks: {
          autoSkip: false,
          minRotation: 90,
          maxRotation: 90,
          padding: 8,
          color: '#000',
          font: { family: FONT, size: 16 },
          callback: function(value, index) { return monthLabels[index]; }
        },
        grid: { drawOnChartArea: false, drawTicks: true, tickLength: 6, color: '#000' },
        border: { display: true, color: '#000' }
      },
      y: {
        min: 0,
        max: 32,
        afterBuildTicks: function(scale) {
          scale.ticks = yTicks.map(function(v) { return { value: v }; });
        },
        afterFit: function(scale) { scale.width = 52; },
        ticks: {
          padding: 8,
          color: '#000',
          font: { family: FONT, size: 16 }
        },
        grid: { color: '#000', lineWidth: 1, tickLength: 5 },
        border: { display: true, color: '#000' }
      }
    }
  },
  plugins: [sfondo, legenda]
});
</script>
</body>
</html>
